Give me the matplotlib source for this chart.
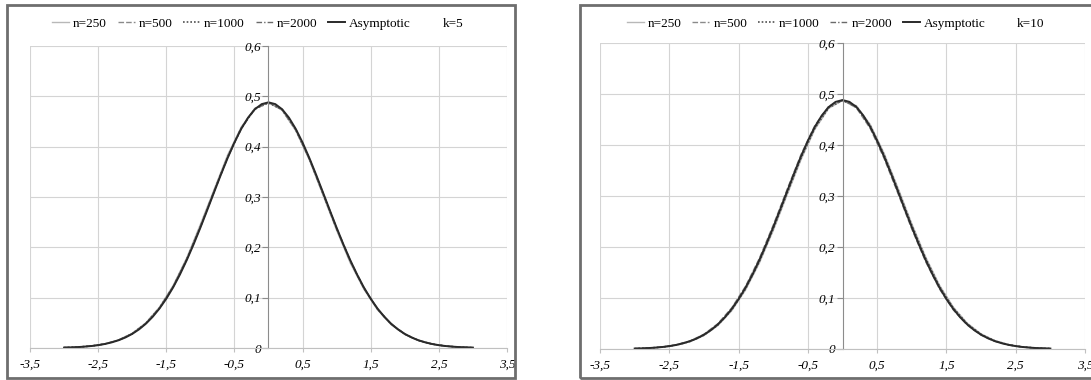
import numpy as np
import matplotlib
matplotlib.use("Agg")
import matplotlib.pyplot as plt
from matplotlib.lines import Line2D
from matplotlib.patches import Rectangle
from matplotlib.ticker import FuncFormatter

plt.rcParams['font.family'] = ['Liberation Serif', 'DejaVu Serif']

# x grid of the fine (asymptotic) curve and of the simulated curves
x_fine = np.round(np.arange(-3.0, 3.05, 0.1), 1)
x_sim = np.round(np.arange(-3.0, 3.05, 0.2), 1)

asymptotic = [0.0008, 0.0012, 0.0018, 0.0027, 0.0039, 0.0056, 0.0080, 0.0112, 0.0154, 0.0209,
              0.0280, 0.0370, 0.0482, 0.0619, 0.0784, 0.0978, 0.1203, 0.1459, 0.1745, 0.2056,
              0.2389, 0.2736, 0.3089, 0.3439, 0.3773, 0.4082, 0.4353, 0.4576, 0.4743, 0.4845,
              0.4880,
              0.4845, 0.4743, 0.4576, 0.4353, 0.4082, 0.3773, 0.3439, 0.3089, 0.2736, 0.2389,
              0.2056, 0.1745, 0.1459, 0.1203, 0.0978, 0.0784, 0.0619, 0.0482, 0.0370, 0.0280,
              0.0209, 0.0154, 0.0112, 0.0080, 0.0056, 0.0039, 0.0027, 0.0018, 0.0012, 0.0008]

# k=5
k5_n250 = [0.0009, 0.0019, 0.0041, 0.0084, 0.0161, 0.0292, 0.0501, 0.0811, 0.1239, 0.1790,
           0.2455, 0.3142, 0.3835, 0.4390, 0.4763, 0.4878, 0.4723, 0.4316, 0.3740, 0.3036,
           0.2338, 0.1688, 0.1167, 0.0757, 0.0463, 0.0268, 0.0147, 0.0076, 0.0037, 0.0017, 0.0007]
k5_n500 = [0.0008, 0.0019, 0.0040, 0.0083, 0.0159, 0.0288, 0.0494, 0.0802, 0.1227, 0.1775,
           0.2423, 0.3124, 0.3805, 0.4378, 0.4757, 0.4882, 0.4729, 0.4328, 0.3741, 0.3054,
           0.2355, 0.1715, 0.1179, 0.0766, 0.0470, 0.0272, 0.0149, 0.0077, 0.0038, 0.0017, 0.0008]
k5_n1000 = [0.0008, 0.0018, 0.0040, 0.0081, 0.0156, 0.0284, 0.0488, 0.0793, 0.1215, 0.1760,
            0.2406, 0.3107, 0.3789, 0.4365, 0.4750, 0.4868, 0.4736, 0.4341, 0.3757, 0.3071,
            0.2372, 0.1730, 0.1191, 0.0775, 0.0476, 0.0276, 0.0152, 0.0079, 0.0038, 0.0018, 0.0008]
k5_n2000 = [0.0008, 0.0018, 0.0039, 0.0081, 0.0155, 0.0282, 0.0484, 0.0788, 0.1208, 0.1751,
            0.2396, 0.3096, 0.3779, 0.4358, 0.4746, 0.4878, 0.4740, 0.4348, 0.3767, 0.3082,
            0.2382, 0.1739, 0.1198, 0.0780, 0.0480, 0.0278, 0.0153, 0.0079, 0.0039, 0.0018, 0.0008]

# k=10
k10_n250 = [0.0007, 0.0017, 0.0036, 0.0075, 0.0144, 0.0264, 0.0457, 0.0748, 0.1155, 0.1685,
            0.2321, 0.3018, 0.3708, 0.4303, 0.4716, 0.4875, 0.4770, 0.4403, 0.3838, 0.3160,
            0.2457, 0.1805, 0.1251, 0.0820, 0.0507, 0.0296, 0.0164, 0.0085, 0.0042, 0.0019, 0.0009]
k10_n500 = [0.0008, 0.0019, 0.0041, 0.0084, 0.0160, 0.0290, 0.0497, 0.0806, 0.1231, 0.1780,
            0.2430, 0.3130, 0.3812, 0.4382, 0.4760, 0.4880, 0.4726, 0.4322, 0.3735, 0.3048,
            0.2350, 0.1710, 0.1175, 0.0763, 0.0468, 0.0271, 0.0148, 0.0077, 0.0037, 0.0017, 0.0008]
k10_n1000 = [0.0008, 0.0017, 0.0038, 0.0077, 0.0149, 0.0272, 0.0470, 0.0766, 0.1179, 0.1715,
             0.2355, 0.3054, 0.3741, 0.4328, 0.4729, 0.4874, 0.4757, 0.4378, 0.3805, 0.3124,
             0.2423, 0.1775, 0.1227, 0.0802, 0.0494, 0.0288, 0.0159, 0.0083, 0.0040, 0.0019, 0.0008]
k10_n2000 = [0.0008, 0.0018, 0.0039, 0.0080, 0.0154, 0.0281, 0.0483, 0.0786, 0.1206, 0.1748,
             0.2393, 0.3093, 0.3776, 0.4355, 0.4744, 0.4872, 0.4742, 0.4350, 0.3770, 0.3085,
             0.2385, 0.1742, 0.1200, 0.0782, 0.0481, 0.0279, 0.0154, 0.0080, 0.0039, 0.0018, 0.0008]

labels = ['n=250', 'n=500', 'n=1000', 'n=2000', 'Asymptotic']
styles = [dict(color='#b8b8b8', ls='-', lw=1.0),
          dict(color='#8a8a8a', ls=(0, (4, 1.5)), lw=1.0),
          dict(color='#505050', ls=(0, (1, 1.2)), lw=1.2),
          dict(color='#6a6a6a', ls=(0, (4, 1.5, 1, 1.5)), lw=1.0),
          dict(color='#2a2a2a', ls='-', lw=1.4)]

xticks = [-3.5, -2.5, -1.5, -0.5, 0.5, 1.5, 2.5, 3.5]
yticks = [0, 0.1, 0.2, 0.3, 0.4, 0.5, 0.6]


def comma(v, pos):
    s = ('%.1f' % v).replace('.', ',')
    return '0' if s in ('0,0', '-0,0') else s


fig = plt.figure(figsize=(10.91, 3.8), dpi=100)

# panel frames
fig.patches.append(Rectangle((0.0064, 0.005), 0.4656, 0.982, transform=fig.transFigure,
                             fill=False, edgecolor='#6e6e6e', lw=2))
fig.patches.append(Rectangle((0.5316, 0.005), 0.49, 0.982, transform=fig.transFigure,
                             fill=False, edgecolor='#6e6e6e', lw=2))

panels = [
    dict(pos=[0.0275, 0.0842, 0.4372, 0.7948], sims=[k5_n250, k5_n500, k5_n1000, k5_n2000],
         k='k=5', leg_x=0.236),
    dict(pos=[0.5500, 0.0816, 0.4445, 0.8054], sims=[k10_n250, k10_n500, k10_n1000, k10_n2000],
         k='k=10', leg_x=0.766),
]

for p in panels:
    ax = fig.add_axes(p['pos'])
    for ys, st in zip(p['sims'], styles[:4]):
        ax.plot(x_sim, ys, **st)
    ax.plot(x_fine, asymptotic, **styles[4])

    ax.set_xlim(-3.5, 3.5)
    ax.set_ylim(0, 0.6)
    ax.set_xticks(xticks)
    ax.set_yticks(yticks)
    ax.xaxis.set_major_formatter(FuncFormatter(comma))
    ax.yaxis.set_major_formatter(FuncFormatter(comma))
    ax.grid(True, color='#d4d4d4', lw=0.8)
    ax.set_axisbelow(True)

    ax.spines['left'].set_position(('data', 0))
    ax.spines['left'].set_color('#8c8c8c')
    ax.spines['bottom'].set_color('#c0c0c0')
    ax.spines['top'].set_visible(False)
    ax.spines['right'].set_visible(False)
    ax.tick_params(axis='y', length=4, color='#8c8c8c', pad=1, labelsize=9.5)
    ax.tick_params(axis='x', length=3, color='#c0c0c0', pad=5, labelsize=9.5)
    for t in ax.get_xticklabels() + ax.get_yticklabels():
        t.set_fontstyle('italic')

    handles = [Line2D([], [], **st) for st in styles]
    handles.append(Line2D([], [], color='none'))
    fig.legend(handles, labels + [p['k']], loc='center', ncol=6,
               bbox_to_anchor=(p['leg_x'], 0.938), frameon=False, fontsize=9.5,
               handlelength=1.3, handletextpad=0.3, columnspacing=0.8)

fig.savefig('out.png', dpi=100)
